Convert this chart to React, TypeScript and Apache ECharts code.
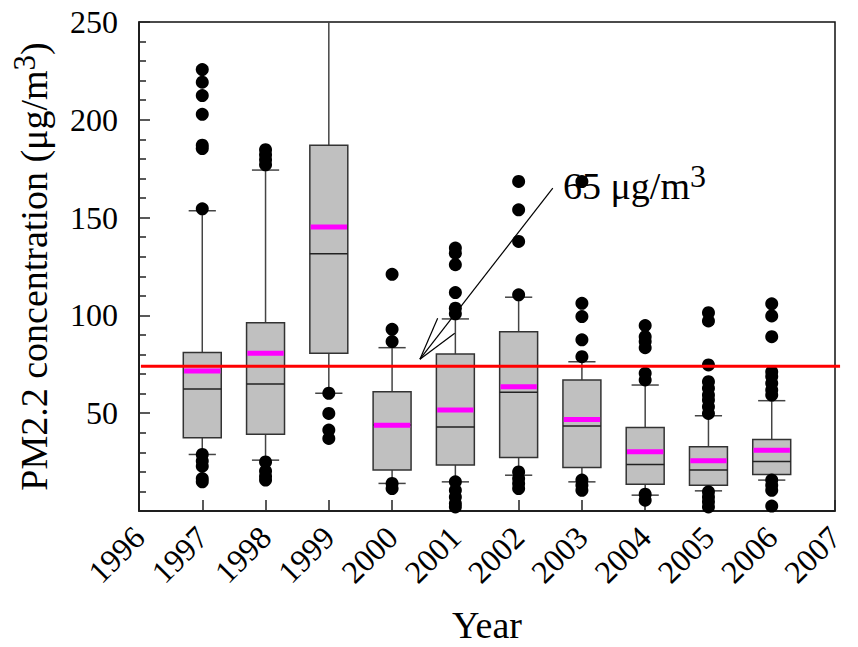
import React, { useEffect, useRef } from 'react';
import * as echarts from 'echarts';

const years = [1997, 1998, 1999, 2000, 2001, 2002, 2003, 2004, 2005, 2006];
const whiskerLow = [28.9, 26, 60.2, 14.1, 14.9, 18.3, 14.9, 8.1, 10.3, 15.8];
const q1 = [37.4, 39.2, 80.6, 20.9, 23.5, 27.4, 22.3, 13.7, 13.2, 18.7];
const median = [62.4, 64.9, 131.5, 44, 43, 60.7, 43.4, 23.8, 20.9, 25.3];
const q3 = [81, 96.2, 187, 61, 80.3, 91.7, 67, 42.7, 32.8, 36.6];
const whiskerHigh = [153.5, 174.3, 262, 83.5, 98.2, 109.3, 76.3, 64.4, 48.7, 56.4];
const mean = [71.6, 80.6, 145.2, 43.9, 51.6, 63.5, 46.8, 30.3, 25.7, 31.1];
const outliers = [
  [225.7, 219.2, 212.4, 202.8, 187, 185.3, 154.5, 28.9, 25.6, 22.9, 16.6, 14.9],
  [184.7, 182.1, 179.6, 177, 25.1, 20.4, 17.8, 15.8],
  [60.2, 49.9, 41.4, 37.1],
  [121, 92.9, 86.6, 14.1, 11.5],
  [134.4, 131.8, 125.9, 111.7, 103.7, 100.8, 14.9, 10.6, 7.2, 3.8, 2.1],
  [168.5, 154, 137.8, 110.5, 20, 16.6, 14.1, 11.5],
  [168.4, 106.2, 99.4, 87.5, 78.9, 15.8, 13.2, 10.6],
  [94.8, 89.1, 86.6, 83.5, 70.4, 67, 8.6, 5.5],
  [101.4, 97.2, 74.7, 66.1, 62.7, 59.3, 56.7, 53.3, 49.9, 9.8, 7.2, 4.7, 2.1],
  [105.9, 99.7, 89.1, 71.2, 68.7, 65.3, 61.9, 59.3, 15.8, 13.2, 10.6, 2.5],
];
const standardLevel = 74;
const standardSpan = [1996.03, 2007.08];
const arrowTip = [2000.44, 77.6];
const arrowTail = [2002.54, 165.1];
const arrowBarbs = [
  [2000.72, 98.6],
  [2000.99, 90.9],
];
const labelAt = [2002.7, 166];
const xMin = 1996;
const xMax = 2007;
const yMin = 0;
const yMax = 250;

const FONT = '"Liberation Serif", "Times New Roman", "DejaVu Serif", serif';

export default function App() {
  const ref = useRef<HTMLDivElement>(null);
  useEffect(() => {
    if (!ref.current) return;
    const chart = echarts.init(ref.current, undefined, { renderer: 'svg' });
    const boxData = years.map((y, i) => [y, whiskerLow[i], q1[i], median[i], q3[i], whiskerHigh[i], mean[i]]);
    const outlierData: number[][] = [];
    years.forEach((y, i) => outliers[i].forEach((v) => outlierData.push([y, v])));

    const option: any = {
      animation: false,
      backgroundColor: '#fff',
      textStyle: { fontFamily: FONT, color: '#000' },
      grid: {
        left: 139,
        right: 23,
        top: 22,
        bottom: 136,
        containLabel: false,
        outerBoundsMode: 'none',
        show: true,
        borderColor: '#111',
        borderWidth: 1.5,
        backgroundColor: 'transparent',
      },
      xAxis: {
        type: 'value',
        min: xMin,
        max: xMax,
        interval: 1,
        name: 'Year',
        nameLocation: 'middle',
        nameGap: 95,
        nameTextStyle: { fontSize: 38, fontFamily: FONT, color: '#000' },
        axisLine: { show: true, lineStyle: { color: '#111', width: 1.5 } },
        axisTick: { show: true, inside: true, length: 11, lineStyle: { color: '#222', width: 1.5 } },
        axisLabel: {
          rotate: 45,
          fontSize: 32,
          fontFamily: FONT,
          color: '#000',
          margin: 21,
          formatter: (v: number) => String(v),
        },
        splitLine: { show: false },
      },
      yAxis: {
        type: 'value',
        min: yMin,
        max: yMax,
        interval: 50,
        name: 'PM2.2 concentration (μg/m{s|3})',
        nameLocation: 'middle',
        nameGap: 75,
        nameTextStyle: {
          fontSize: 38,
          fontFamily: FONT,
          color: '#000',
          lineHeight: 50,
          rich: {
            s: { fontSize: 31, fontFamily: FONT, color: '#000', lineHeight: 31, verticalAlign: 'top' },
          },
        },
        axisLine: { show: true, lineStyle: { color: '#111', width: 1.5 } },
        axisTick: { show: true, inside: true, length: 11, lineStyle: { color: '#222', width: 1.5 } },
        minorTick: { show: true, splitNumber: 5, length: 7, lineStyle: { color: '#222', width: 1.5 } },
        axisLabel: {
          fontSize: 32,
          fontFamily: FONT,
          color: '#000',
          margin: 21,
          formatter: (v: number) => (v === 0 ? '' : String(v)),
        },
        splitLine: { show: false },
      },
      series: [
        {
          type: 'custom',
          clip: true,
          data: boxData,
          encode: { x: 0, y: [1, 2, 3, 4, 5, 6] },
          renderItem: (params: any, api: any) => {
            const x = api.value(0);
            const p = (v: number) => api.coord([x, v]);
            const lo = p(api.value(1));
            const b1 = p(api.value(2));
            const md = p(api.value(3));
            const b3 = p(api.value(4));
            const hi = p(api.value(5));
            const mn = p(api.value(6));
            const cx = lo[0];
            const band = api.size([1, 0])[0];
            const hw = band * 0.3;
            const cw = band * 0.215;
            const wStyle = { stroke: '#444', lineWidth: 1.5 };
            return {
              type: 'group',
              children: [
                { type: 'line', shape: { x1: cx, y1: b1[1], x2: cx, y2: lo[1] }, style: wStyle },
                { type: 'line', shape: { x1: cx, y1: b3[1], x2: cx, y2: hi[1] }, style: wStyle },
                { type: 'line', shape: { x1: cx - cw, y1: lo[1], x2: cx + cw, y2: lo[1] }, style: wStyle },
                { type: 'line', shape: { x1: cx - cw, y1: hi[1], x2: cx + cw, y2: hi[1] }, style: wStyle },
                {
                  type: 'rect',
                  shape: { x: cx - hw, y: b3[1], width: hw * 2, height: b1[1] - b3[1] },
                  style: { fill: '#c0c0c0', stroke: '#333', lineWidth: 1.5 },
                },
                { type: 'line', shape: { x1: cx - hw, y1: md[1], x2: cx + hw, y2: md[1] }, style: { stroke: '#222', lineWidth: 1.5 } },
                { type: 'line', shape: { x1: cx - hw + 0.8, y1: mn[1], x2: cx + hw - 0.8, y2: mn[1] }, style: { stroke: '#ff00ff', lineWidth: 5 } },
              ],
            };
          },
          z: 2,
        },
        {
          type: 'custom',
          clip: false,
          data: [[standardLevel]],
          encode: { y: 0 },
          renderItem: (params: any, api: any) => {
            const v = api.value(0);
            const a = api.coord([standardSpan[0], v]);
            const b = api.coord([standardSpan[1], v]);
            return {
              type: 'line',
              shape: { x1: a[0], y1: a[1], x2: b[0], y2: b[1] },
              style: { stroke: '#ff0000', lineWidth: 3 },
            };
          },
          z: 4,
        },
        {
          type: 'scatter',
          clip: false,
          data: outlierData,
          symbol: 'circle',
          symbolSize: 13,
          itemStyle: { color: '#000', opacity: 1 },
          z: 3,
          markLine: {
            silent: true,
            symbol: 'none',
            animation: false,
            label: { show: false },
            data: [
              [
                { coord: arrowTip, lineStyle: { color: '#000', width: 1.2, type: 'solid' } },
                { coord: arrowTail },
              ],
              [
                { coord: arrowTip, lineStyle: { color: '#000', width: 1.2, type: 'solid' } },
                { coord: arrowBarbs[0] },
              ],
              [
                { coord: arrowTip, lineStyle: { color: '#000', width: 1.2, type: 'solid' } },
                { coord: arrowBarbs[1] },
              ],
            ],
          },
          markPoint: {
            silent: true,
            animation: false,
            data: [
              {
                coord: labelAt,
                symbol: 'circle',
                symbolSize: 0.1,
                itemStyle: { color: 'transparent' },
                label: {
                  show: true,
                  position: 'right',
                  distance: 0,
                  formatter: '65 μg/m{s|3}',
                  fontSize: 38,
                  fontFamily: FONT,
                  color: '#000',
                  lineHeight: 52,
                  rich: {
                    s: { fontSize: 32, fontFamily: FONT, color: '#000', lineHeight: 32, verticalAlign: 'top' },
                  },
                },
              },
            ],
          },
        },
      ],
    };
    chart.setOption(option);
    return () => chart.dispose();
  }, []);
  return <div ref={ref} style={{ position: 'fixed', left: 0, top: 0, width: 858, height: 647 }} />;
}
